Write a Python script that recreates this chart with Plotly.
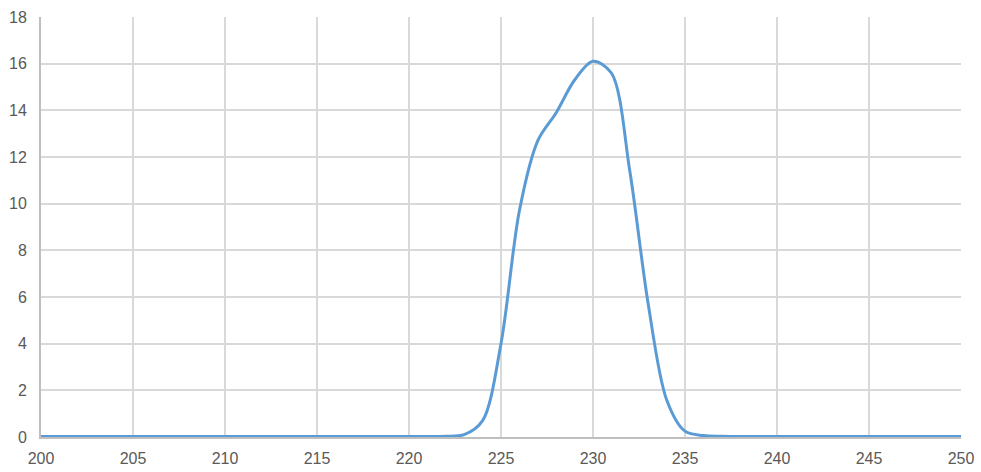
import plotly.graph_objects as go

# wavelength (x) and signal (y)
x_vals = list(range(200, 251))
y_vals = [0.02] * 20 + [
    0.02, 0.02, 0.03, 0.1, 0.7, 4.0, 9.7, 12.7, 13.9, 15.3,
    16.1, 15.6, 11.4, 5.7, 1.6, 0.25, 0.06, 0.03, 0.02, 0.02,
] + [0.02] * 11

x_ticks = list(range(200, 251, 5))
y_ticks = list(range(0, 19, 2))

fig = go.Figure()
fig.add_trace(go.Scatter(
    x=x_vals, y=y_vals, mode="lines",
    line=dict(color="#5B9BD5", width=3, shape="spline", smoothing=0.9),
    showlegend=False,
))
fig.update_layout(
    width=981, height=472,
    margin=dict(l=41, r=20, t=17, b=35, autoexpand=False),
    paper_bgcolor="white", plot_bgcolor="white",
    font=dict(family="Liberation Sans, Arial", size=16, color="#595959"),
)
fig.update_xaxes(
    range=[200, 250], tickvals=x_ticks, showgrid=True, gridcolor="#d9d9d9",
    gridwidth=1.5, zeroline=False, showline=True, linecolor="#bfbfbf",
    linewidth=2, ticks="", ticklabelstandoff=6, automargin=False,
)
fig.update_yaxes(
    range=[0, 18], tickvals=y_ticks, showgrid=True, gridcolor="#d9d9d9",
    gridwidth=1.5, zeroline=False, showline=True, linecolor="#bfbfbf",
    linewidth=2, ticks="", ticklabelstandoff=9, automargin=False,
)
# drop the page's default body margin so the figure fills the window
fig.write_html("out.html", config={"displayModeBar": False},
               post_script="document.body.style.margin='0';")
